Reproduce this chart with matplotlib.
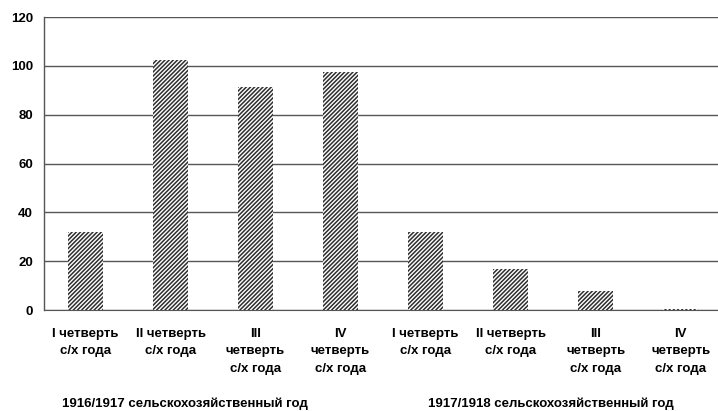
import matplotlib
matplotlib.use("Agg")
import matplotlib.pyplot as plt

categories = [
    "I четверть\nс/х года", "II четверть\nс/х года",
    "III\nчетверть\nс/х года", "IV\nчетверть\nс/х года",
    "I четверть\nс/х года", "II четверть\nс/х года",
    "III\nчетверть\nс/х года", "IV\nчетверть\nс/х года",
]
values = [32, 102.5, 91.3, 97.5, 32, 16.8, 7.8, 0.6]
groups = ["1916/1917 сельскохозяйственный год", "1917/1918 сельскохозяйственный год"]
yticks = [0, 20, 40, 60, 80, 100, 120]

plt.rcParams['font.family'] = ['Liberation Sans', 'DejaVu Sans']
plt.rcParams['hatch.linewidth'] = 1.1
plt.rcParams['hatch.color'] = '#2e2e2e'

fig = plt.figure(figsize=(7.18, 4.11), dpi=100)
ax = fig.add_axes([0.0613, 0.2457, 0.9387, 0.7129])

x = list(range(len(values)))
ax.bar(x, values, width=0.41, color='white', edgecolor='#2e2e2e',
       hatch='////////', linewidth=0, zorder=3)

ax.set_ylim(0, 120)
ax.set_xlim(-0.488, 7.44)
ax.set_yticks(yticks)
ax.set_yticklabels([str(v) for v in yticks], fontsize=9.5, fontweight='bold')
ax.set_xticks(x)
ax.set_xticklabels(categories, fontsize=9.5, fontweight='bold', linespacing=1.6,
                   va='top')
ax.tick_params(axis='both', length=0)
ax.tick_params(axis='y', pad=8)
ax.tick_params(axis='x', pad=13)

ax.grid(axis='y', color='#555555', linewidth=1.0, zorder=0)
for s in ['top', 'right']:
    ax.spines[s].set_visible(False)
ax.spines['left'].set_color('#555555')
ax.spines['bottom'].set_color('#555555')
ax.spines['left'].set_linewidth(1.0)

fig.text(0.258, 0.003, groups[0], ha='center', va='bottom', fontsize=9.5, fontweight='bold')
fig.text(0.767, 0.003, groups[1], ha='center', va='bottom', fontsize=9.5, fontweight='bold')

fig.savefig("out.png", dpi=100)
